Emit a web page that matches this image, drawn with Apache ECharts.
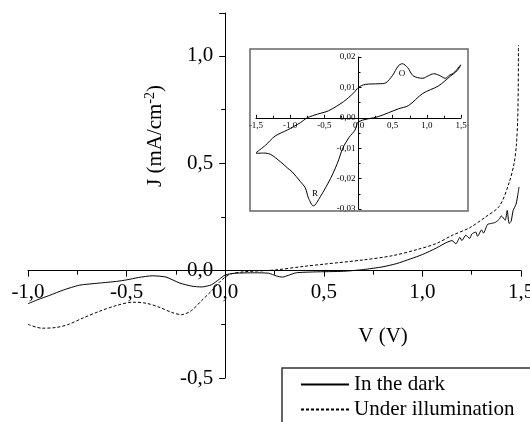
<!DOCTYPE html>
<html>
<head>
<meta charset="utf-8">
<script src="https://cdn.jsdelivr.net/npm/echarts@6/dist/echarts.min.js"></script>
<style>
  html, body { margin: 0; padding: 0; background: #fff; }
  #chart { width: 530px; height: 422px; }
</style>
</head>
<body>
<div id="chart"></div>
<script>
// main plot: J-V curves
const darkV = [-1.0, -0.95, -0.89, -0.82, -0.74, -0.64, -0.55, -0.5, -0.44, -0.37, -0.3, -0.23, -0.17, -0.12, -0.07, -0.03, 0.0,
  0.05, 0.15, 0.22, 0.26, 0.29, 0.32, 0.36, 0.45, 0.6, 0.7, 0.8, 0.87, 0.94, 1.0, 1.07, 1.12,
  1.15, 1.17, 1.19, 1.2, 1.22, 1.24, 1.25, 1.27, 1.28, 1.3, 1.31, 1.33, 1.35, 1.37, 1.39, 1.4, 1.42, 1.43, 1.44, 1.45, 1.46, 1.475, 1.485, 1.49];
const darkJ = [-0.154, -0.135, -0.115, -0.09, -0.068, -0.058, -0.05, -0.043, -0.032, -0.024, -0.03, -0.058, -0.072, -0.076, -0.066, -0.04, -0.02,
  -0.012, -0.01, -0.012, -0.025, -0.03, -0.022, -0.01, -0.006, -0.003, 0.005, 0.018, 0.033, 0.055, 0.075, 0.105, 0.13,
  0.14, 0.125, 0.155, 0.14, 0.165, 0.15, 0.17, 0.18, 0.16, 0.19, 0.175, 0.215, 0.22, 0.225, 0.24, 0.255, 0.235, 0.28, 0.22, 0.23, 0.28, 0.31, 0.36, 0.39];

const lightV = [-1.0, -0.93, -0.86, -0.8, -0.72, -0.64, -0.55, -0.47, -0.4, -0.33, -0.27, -0.22, -0.17, -0.12, -0.07, -0.03, 0.0,
  0.03, 0.1, 0.25, 0.4, 0.5, 0.7, 0.85, 0.98, 1.07, 1.15, 1.24, 1.32, 1.39, 1.44, 1.465, 1.476, 1.483, 1.486, 1.487];
const lightJ = [-0.25, -0.268, -0.265, -0.252, -0.22, -0.19, -0.162, -0.147, -0.152, -0.172, -0.195, -0.205, -0.185, -0.14, -0.095, -0.055, -0.03,
  -0.015, -0.005, 0.003, 0.02, 0.03, 0.05, 0.07, 0.1, 0.126, 0.164, 0.2, 0.25, 0.3, 0.41, 0.5, 0.58, 0.7, 0.85, 1.05];

// inset: cyclic voltammogram, in sweep order
const cvV = [-1.5, -1.36, -1.22, -1.04, -0.85, -0.75, -0.6, -0.44, -0.22, -0.07, 0.0, 0.1, 0.3, 0.4, 0.5, 0.58, 0.64, 0.72, 0.8, 0.94, 1.02, 1.1, 1.18, 1.27, 1.33, 1.38, 1.4, 1.43, 1.45, 1.47, 1.5,
  1.46, 1.42, 1.35, 1.17, 0.94, 0.73, 0.59, 0.29, 0.0, -0.05, -0.14, -0.23, -0.31, -0.41, -0.56, -0.66, -0.73, -0.78, -0.85, -0.97, -1.04, -1.14, -1.29, -1.39, -1.5];
const cvJ = [-0.0115, -0.009, -0.006, -0.004, -0.0016, 0.0, 0.0012, 0.0023, 0.0053, 0.0082, 0.0100, 0.0110, 0.0112, 0.0115, 0.0140, 0.0170, 0.0178, 0.0165, 0.0138, 0.0130, 0.0138, 0.0145, 0.0140, 0.0130, 0.0140, 0.0145, 0.0150, 0.0155, 0.0162, 0.0168, 0.0174,
  0.0160, 0.0150, 0.0138, 0.0105, 0.0080, 0.0040, 0.0030, 0.0004, -0.0013, -0.0040, -0.0065, -0.0100, -0.0150, -0.0200, -0.0260, -0.0290, -0.0265, -0.0230, -0.0210, -0.0178, -0.0165, -0.0145, -0.0120, -0.0116, -0.0117];

const mainXTicks = [-1.0, 1.5, 0.5];   // min, max, interval
const mainYTicks = [-0.5, 1.2, 0.5];
const insetXTicks = [-1.5, 1.5, 0.5];
const insetYTicks = [-0.03, 0.02, 0.01];

const W = 530, H = 422;
const mainGrid = { left: 28, right: 9, top: 13, bottom: 44 };
const insetGrid = { left: 256, right: 69, top: 57, bottom: 213 };

const serif = "'Liberation Serif', 'Times New Roman', serif";
const comma = (v, d) => v.toFixed(d).replace('.', ',');
const pairs = (xs, ys) => xs.map((x, i) => [x, ys[i]]);

// axes cross at zero: shift them inwards so the labels move with the line
function zeroOffsets(g, xt, yt) {
  const w = W - g.left - g.right, h = H - g.top - g.bottom;
  return {
    x: -(0 - yt[0]) / (yt[1] - yt[0]) * h,
    y: -(0 - xt[0]) / (xt[1] - xt[0]) * w
  };
}
const mainOff = zeroOffsets(mainGrid, mainXTicks, mainYTicks);
const insetOff = zeroOffsets(insetGrid, insetXTicks, insetYTicks);

const chart = echarts.init(document.getElementById('chart'));

chart.setOption({
  animation: false,
  backgroundColor: '#fff',
  grid: [
    Object.assign({ outerBoundsMode: 'none', containLabel: false }, mainGrid),
    Object.assign({ outerBoundsMode: 'none', containLabel: false }, insetGrid)
  ],
  xAxis: [{
    gridIndex: 0, type: 'value', position: 'bottom', offset: mainOff.x,
    min: mainXTicks[0], max: mainXTicks[1], interval: mainXTicks[2],
    axisLine: { onZero: false, lineStyle: { color: '#000', width: 1 } },
    axisTick: { length: 6, lineStyle: { color: '#000' } },
    minorTick: { show: true, splitNumber: 2, length: 4, lineStyle: { color: '#000' } },
    splitLine: { show: false },
    axisLabel: { margin: 11, fontFamily: serif, fontSize: 21, color: '#000', formatter: v => comma(v, 1) }
  }, {
    gridIndex: 1, type: 'value', position: 'bottom', offset: insetOff.x,
    min: insetXTicks[0], max: insetXTicks[1], interval: insetXTicks[2],
    axisLine: { onZero: false, lineStyle: { color: '#000', width: 1 } },
    axisTick: { inside: true, length: 3, lineStyle: { color: '#000' } },
    minorTick: { show: true, splitNumber: 2, length: 2, lineStyle: { color: '#000' } },
    splitLine: { show: false },
    axisLabel: { margin: 3, fontFamily: serif, fontSize: 9, color: '#000', formatter: v => comma(v, 1) }
  }],
  yAxis: [{
    gridIndex: 0, type: 'value', position: 'left', offset: mainOff.y,
    min: mainYTicks[0], max: mainYTicks[1], interval: mainYTicks[2],
    axisLine: { onZero: false, lineStyle: { color: '#000', width: 1 } },
    axisTick: { length: 6, lineStyle: { color: '#000' } },
    minorTick: { show: true, splitNumber: 2, length: 4, lineStyle: { color: '#000' } },
    splitLine: { show: false },
    axisLabel: { margin: 12, fontFamily: serif, fontSize: 21, color: '#000', showMaxLabel: false,
      formatter: v => comma(v, 1) }
  }, {
    gridIndex: 1, type: 'value', position: 'left', offset: insetOff.y,
    min: insetYTicks[0], max: insetYTicks[1], interval: insetYTicks[2],
    axisLine: { onZero: false, lineStyle: { color: '#000', width: 1 } },
    axisTick: { inside: true, length: 3, lineStyle: { color: '#000' } },
    minorTick: { show: true, splitNumber: 2, length: 2, lineStyle: { color: '#000' } },
    splitLine: { show: false },
    axisLabel: { margin: 3, fontFamily: serif, fontSize: 9, color: '#000', formatter: v => comma(v, 2) }
  }],
  legend: {
    orient: 'vertical',
    left: 282, top: 368, height: 90,
    padding: [6, 40, 20, 18],
    itemGap: 4,
    itemWidth: 48, itemHeight: 12,
    borderColor: '#333', borderWidth: 1.5,
    itemStyle: { opacity: 0 },
    textStyle: { fontFamily: serif, fontSize: 21, color: '#000' },
    data: ['In the dark', 'Under illumination']
  },
  graphic: [
    { type: 'rect', shape: { x: 250, y: 49, width: 218, height: 162 },
      style: { fill: 'none', stroke: '#666', lineWidth: 1.5 }, z: 1 },
    { type: 'text', x: 383, y: 336,
      style: { text: 'V (V)', font: '21px ' + serif, fill: '#000', align: 'center', verticalAlign: 'middle' } },
    { type: 'text', x: 155, y: 136, rotation: Math.PI / 2,
      style: {
        text: '{a|J (mA/cm}{s|-2}{a|)}', align: 'center', verticalAlign: 'middle', fill: '#000',
        rich: {
          a: { fontFamily: serif, fontSize: 21, fill: '#000', lineHeight: 24 },
          s: { fontFamily: serif, fontSize: 14, fill: '#000', verticalAlign: 'top', lineHeight: 14 }
        }
      } },
    { type: 'text', x: 402, y: 74,
      style: { text: 'O', font: '9px ' + serif, fill: '#000', align: 'center', verticalAlign: 'middle' } },
    { type: 'text', x: 315, y: 194,
      style: { text: 'R', font: '9px ' + serif, fill: '#000', align: 'center', verticalAlign: 'middle' } }
  ],
  series: [{
    name: 'In the dark', type: 'line', xAxisIndex: 0, yAxisIndex: 0,
    data: pairs(darkV, darkJ), symbol: 'none', smooth: 0.2,
    lineStyle: { color: '#000', width: 1 }, itemStyle: { color: '#000' }
  }, {
    name: 'Under illumination', type: 'line', xAxisIndex: 0, yAxisIndex: 0,
    data: pairs(lightV, lightJ), symbol: 'none', smooth: 0.3,
    lineStyle: { color: '#000', width: 1, type: [3, 2] }, itemStyle: { color: '#000' }
  }, {
    name: 'CV', type: 'line', xAxisIndex: 1, yAxisIndex: 1,
    data: pairs(cvV, cvJ), symbol: 'none', smooth: 0.3,
    lineStyle: { color: '#000', width: 1 }
  }]
});
</script>
</body>
</html>
